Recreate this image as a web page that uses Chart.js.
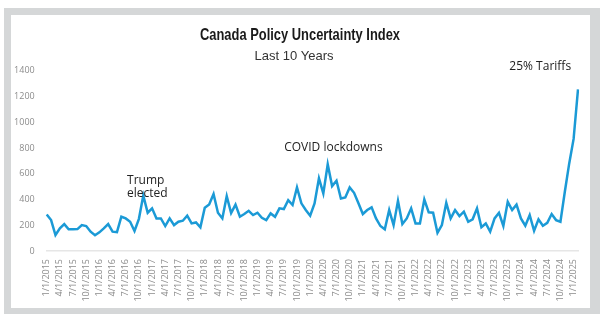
<!DOCTYPE html>
<html>
<head>
<meta charset="utf-8">
<script src="https://cdn.jsdelivr.net/npm/chart.js@4/dist/chart.umd.min.js"></script>
<style>
  html, body { margin: 0; padding: 0; background: #fff; }
  #frame { position: absolute; left: 4px; top: 8px; width: 596px; height: 306px; background: #d5d7d8; }
  #inner { position: absolute; left: 11px; top: 15px; width: 579px; height: 293px; background: #fff; }
  #wrap { position: absolute; left: 0; top: 0; width: 600px; height: 325px; }
</style>
</head>
<body>
<div id="frame"></div>
<div id="inner"></div>
<div id="wrap"><canvas id="myChart" width="600" height="325"></canvas></div>
<script>
// monthly, Jan 2015 - Feb 2025
const startYear = 2015;
const uncertainty = [
  284, 240, 124, 176, 209, 168, 168, 170, 201, 194, 150, 122,
  145, 176, 209, 150, 147, 266, 253, 227, 155, 250, 430, 297,
  331, 253, 253, 194, 253, 201, 227, 235, 274, 214, 222, 184,
  336, 362, 442, 297, 253, 426, 295, 360, 266, 287, 312, 279,
  297, 258, 240, 292, 266, 331, 326, 395, 357, 494, 370, 318,
  274, 370, 564, 447, 674, 504, 545, 408, 416, 494, 452, 370,
  287, 318, 339, 253, 194, 168, 318, 201, 390, 209, 253, 331,
  214, 214, 400, 300, 297, 142, 201, 374, 253, 318, 271, 305,
  227, 246, 331, 184, 214, 150, 253, 297, 194, 382, 318, 360,
  253, 196, 279, 157, 246, 196, 219, 287, 240, 227, 460, 680,
  870, 1255
];
const yTicks = [0, 200, 400, 600, 800, 1000, 1200, 1400];

const months = [];
for (let i = 0; i < uncertainty.length; i++) {
  const y = startYear + Math.floor(i / 12);
  months.push((i % 12 + 1) + '/1/' + y);
}

const titleText = 'Canada Policy Uncertainty Index';
const subtitleText = 'Last 10 Years';

// callouts: lines, category index, value
const notes = [
  { lines: ['Trump', 'elected'], at: 18.3, value: 549, align: 'left' },
  { lines: ['COVID lockdowns'], at: 65.3, value: 804, align: 'center' },
  { lines: ['25% Tariffs'], at: 112.4, value: 1431, align: 'center' }
];

// title is drawn narrow, the original uses a condensed face
const headPlugin = {
  id: 'head',
  afterDraw(chart) {
    const ctx = chart.ctx;
    ctx.save();
    ctx.textBaseline = 'middle';
    ctx.textAlign = 'center';
    ctx.fillStyle = '#1a1a1a';
    ctx.font = 'bold 17px "Liberation Sans", Arial, sans-serif';
    const sx = 200 / ctx.measureText(titleText).width;
    ctx.translate(300, 35);
    ctx.scale(sx, 1);
    ctx.fillText(titleText, 0, 0);
    ctx.restore();

    ctx.save();
    ctx.textBaseline = 'middle';
    ctx.textAlign = 'center';
    ctx.fillStyle = '#333';
    ctx.font = '13px "Liberation Sans", Arial, sans-serif';
    ctx.fillText(subtitleText, 294, 56);
    ctx.restore();
  }
};

const notePlugin = {
  id: 'notes',
  afterDraw(chart) {
    const ctx = chart.ctx;
    const xs = chart.scales.x, ys = chart.scales.y;
    ctx.save();
    ctx.font = '12px "Open Sans"';
    ctx.fillStyle = '#222';
    ctx.textBaseline = 'middle';
    notes.forEach(n => {
      const x = xs.left + (xs.getPixelForValue(1) - xs.getPixelForValue(0)) * n.at;
      const y = ys.getPixelForValue(n.value);
      ctx.textAlign = n.align;
      n.lines.forEach((t, k) => ctx.fillText(t, x, y + k * 13.5));
    });
    ctx.restore();
  }
};

Chart.defaults.font.family = '"Open Sans"';

new Chart(document.getElementById('myChart').getContext('2d'), {
  type: 'line',
  data: {
    labels: months,
    datasets: [{
      label: titleText,
      data: uncertainty,
      borderColor: '#1b9ad6',
      borderWidth: 2.5,
      pointRadius: 0,
      tension: 0,
      fill: false
    }]
  },
  options: {
    responsive: false,
    animation: false,
    layout: { padding: { top: 70.7, right: 22, bottom: 0, left: 0 } },
    plugins: {
      legend: { display: false },
      tooltip: { enabled: false }
    },
    scales: {
      x: {
        grid: { display: false, drawTicks: false },
        border: { display: true, color: '#e6e6e6', width: 1.5 },
        ticks: {
          autoSkip: false,
          maxRotation: 90,
          minRotation: 90,
          padding: 8,
          color: '#8c8c8c',
          font: { size: 9 },
          callback: function (v, i) { return i % 3 === 0 ? months[i] : ''; }
        },
        afterFit: function (s) { s.height = 74; }
      },
      y: {
        min: 0,
        max: 1400,
        afterBuildTicks: function (s) { s.ticks = yTicks.map(v => ({ value: v })); },
        grid: { display: false, drawTicks: false },
        border: { display: false },
        ticks: {
          padding: 12,
          color: '#8c8c8c',
          font: { size: 9 },
          callback: function (v) { return String(v); }
        },
        afterFit: function (s) { s.width = 46.7; }
      }
    }
  },
  plugins: [headPlugin, notePlugin]
});
</script>
</body>
</html>
